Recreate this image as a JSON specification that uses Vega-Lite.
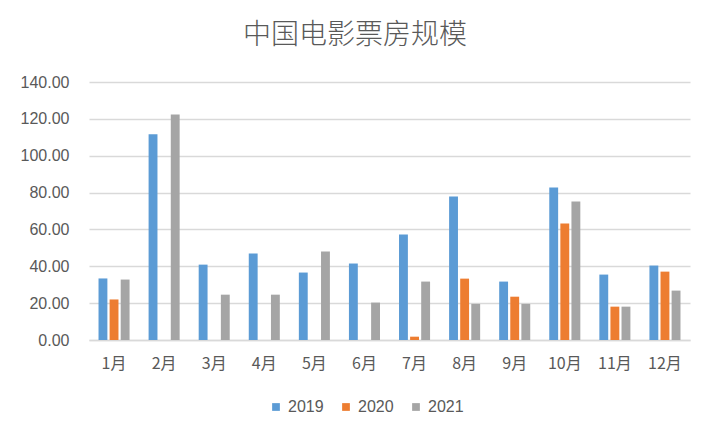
{
  "$schema": "https://vega.github.io/schema/vega-lite/v6.json",
  "autosize": {"type": "none"},
  "width": 601,
  "height": 258,
  "padding": {"left": 89, "top": 82, "right": 25, "bottom": 100},
  "background": "white",
  "title": {
    "text": "中国电影票房规模",
    "anchor": "middle",
    "frame": "bounds",
    "fontSize": 28,
    "font": "Noto Sans CJK SC",
    "fontWeight": 300,
    "color": "#595959",
    "offset": 24
  },
  "data": {
    "values": [
      {"month": "1月", "year": "2019", "value": 33.4},
      {"month": "1月", "year": "2020", "value": 22.0},
      {"month": "1月", "year": "2021", "value": 32.8},
      {"month": "2月", "year": "2019", "value": 111.6},
      {"month": "2月", "year": "2021", "value": 122.3},
      {"month": "3月", "year": "2019", "value": 40.9},
      {"month": "3月", "year": "2021", "value": 24.6},
      {"month": "4月", "year": "2019", "value": 46.9},
      {"month": "4月", "year": "2021", "value": 24.6},
      {"month": "5月", "year": "2019", "value": 36.6},
      {"month": "5月", "year": "2021", "value": 48.0},
      {"month": "6月", "year": "2019", "value": 41.5},
      {"month": "6月", "year": "2021", "value": 20.3},
      {"month": "7月", "year": "2019", "value": 57.2},
      {"month": "7月", "year": "2020", "value": 1.8},
      {"month": "7月", "year": "2021", "value": 31.7},
      {"month": "8月", "year": "2019", "value": 77.9},
      {"month": "8月", "year": "2020", "value": 33.3},
      {"month": "8月", "year": "2021", "value": 19.6},
      {"month": "9月", "year": "2019", "value": 31.7},
      {"month": "9月", "year": "2020", "value": 23.5},
      {"month": "9月", "year": "2021", "value": 19.6},
      {"month": "10月", "year": "2019", "value": 82.8},
      {"month": "10月", "year": "2020", "value": 63.2},
      {"month": "10月", "year": "2021", "value": 75.2},
      {"month": "11月", "year": "2019", "value": 35.5},
      {"month": "11月", "year": "2020", "value": 18.1},
      {"month": "11月", "year": "2021", "value": 18.1},
      {"month": "12月", "year": "2019", "value": 40.4},
      {"month": "12月", "year": "2020", "value": 37.1},
      {"month": "12月", "year": "2021", "value": 26.8}
    ]
  },
  "mark": {"type": "bar"},
  "encoding": {
    "x": {
      "field": "month",
      "type": "nominal",
      "sort": ["1月","2月","3月","4月","5月","6月","7月","8月","9月","10月","11月","12月"],
      "scale": {"paddingInner": 0.38, "paddingOuter": 0.19},
      "axis": {
        "title": null,
        "labelAngle": 0,
        "ticks": false,
        "domainColor": "#d9d9d9",
        "domainWidth": 1.5,
        "labelColor": "#595959",
        "labelFontSize": 16,
        "labelFont": "Noto Sans CJK SC",
        "labelPadding": 15
      }
    },
    "xOffset": {
      "field": "year",
      "type": "nominal",
      "scale": {"paddingInner": 0.2}
    },
    "y": {
      "field": "value",
      "type": "quantitative",
      "scale": {"domain": [0, 140]},
      "axis": {
        "title": null,
        "values": [0, 20, 40, 60, 80, 100, 120, 140],
        "format": ".2f",
        "domain": false,
        "ticks": false,
        "gridColor": "#d9d9d9",
        "gridWidth": 1.5,
        "labelColor": "#595959",
        "labelFontSize": 16,
        "labelFont": "Liberation Sans",
        "labelPadding": 20
      }
    },
    "color": {
      "field": "year",
      "type": "nominal",
      "scale": {"domain": ["2019", "2020", "2021"], "range": ["#5b9bd5", "#ed7d31", "#a5a5a5"]},
      "legend": {
        "title": null,
        "orient": "none",
        "legendX": 179,
        "legendY": 317,
        "direction": "horizontal",
        "symbolType": "square",
        "symbolSize": 60,
        "symbolStrokeWidth": 0,
        "labelColor": "#595959",
        "labelFontSize": 16,
        "labelFont": "Liberation Sans",
        "columnPadding": 14,
        "labelOffset": 4
      }
    }
  },
  "config": {"view": {"stroke": null}}
}
